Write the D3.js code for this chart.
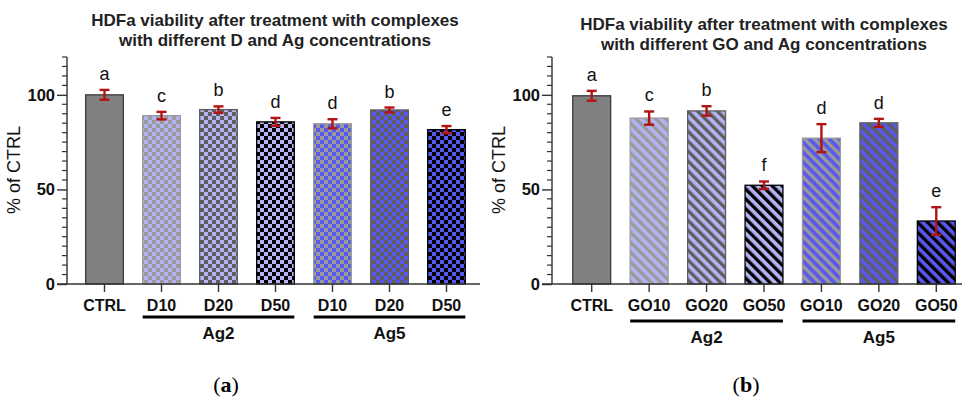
<!DOCTYPE html>
<html>
<head>
<meta charset="utf-8">
<script src="https://cdn.jsdelivr.net/npm/d3@7"></script>
<style>
  body { margin: 0; background: #fff; }
  svg text { font-family: "Liberation Sans", Arial, sans-serif; }
</style>
</head>
<body>
<svg id="chart" width="969" height="403"></svg>
<script>
// data
const labelsA = ["CTRL", "D10", "D20", "D50", "D10", "D20", "D50"];
const meansA = [100, 89, 92.2, 85.7, 84.7, 92, 81.6];
const errA = [2.6, 2.0, 1.7, 2.1, 2.4, 1.3, 1.9];
const lettersA = ["a", "c", "b", "d", "d", "b", "e"];

const labelsB = ["CTRL", "GO10", "GO20", "GO50", "GO10", "GO20", "GO50"];
const meansB = [99.5, 87.7, 91.5, 52.2, 77.1, 85.2, 33.3];
const errB = [2.6, 3.5, 2.5, 2.0, 7.4, 2.1, 7.3];
const lettersB = ["a", "c", "b", "f", "d", "d", "e"];

const groups = [{ name: "Ag2", from: 1, to: 3 }, { name: "Ag5", from: 4, to: 6 }];
const yTicks = [0, 50, 100];
const yMax = 120;

const svg = d3.select("#chart");
const defs = svg.append("defs");

// background / foreground colours of the patterns
const bgCols = ["#b4b4f4", "#b4b4f4", "#b4b4f4", "#5858f0", "#5858f0", "#5858f0"];
const fgCols = ["#9a9a9a", "#5e5e5e", "#000000", "#9a9a9a", "#5e5e5e", "#000000"];

bgCols.forEach((bg, i) => {
    // checkerboard
    const pc = defs.append("pattern")
        .attr("id", "chk" + i)
        .attr("patternUnits", "userSpaceOnUse")
        .attr("width", 8).attr("height", 8);
    pc.append("rect").attr("width", 8).attr("height", 8).attr("fill", bg);
    pc.append("rect").attr("width", 4).attr("height", 4).attr("fill", fgCols[i]);
    pc.append("rect").attr("x", 4).attr("y", 4).attr("width", 4).attr("height", 4).attr("fill", fgCols[i]);

    // diagonal stripes "\"
    const ps = defs.append("pattern")
        .attr("id", "str" + i)
        .attr("patternUnits", "userSpaceOnUse")
        .attr("width", 7).attr("height", 7)
        .attr("patternTransform", "rotate(-45)");
    ps.append("rect").attr("width", 7).attr("height", 7).attr("fill", bg);
    ps.append("rect").attr("width", 3.3).attr("height", 7).attr("fill", fgCols[i]);
});

function drawPanel(cfg) {
    const y = d3.scaleLinear().domain([0, yMax]).range([284, 57]);
    const idx = d3.range(cfg.labels.length);
    const x = d3.scaleBand()
        .domain(idx)
        .range(cfg.xr)
        .paddingInner(0.34)
        .paddingOuter(0.17);

    const g = svg.append("g");

    // title
    g.append("text")
        .attr("x", cfg.tx).attr("y", cfg.ty)
        .attr("text-anchor", "middle")
        .style("font-size", "17px").style("font-weight", "bold")
        .style("fill", "#222")
        .selectAll("tspan")
        .data(cfg.title)
        .join("tspan")
        .attr("x", cfg.tx)
        .attr("dy", (d, i) => i === 0 ? 0 : 19.5)
        .text(d => d);

    // bars
    g.selectAll(".bar")
        .data(idx)
        .join("rect")
        .attr("class", "bar")
        .attr("x", i => x(i))
        .attr("y", i => y(cfg.means[i]))
        .attr("width", x.bandwidth())
        .attr("height", i => y(0) - y(cfg.means[i]))
        .attr("fill", i => i === 0 ? "#808080" : `url(#${cfg.pat}${i - 1})`)
        .attr("stroke", i => i === 0 ? "#3a3a3a" : fgCols[i - 1])
        .attr("stroke-width", 1.3);

    // error bars
    const eb = g.selectAll(".err")
        .data(idx)
        .join("g")
        .attr("class", "err")
        .attr("stroke", "#b21414")
        .attr("stroke-width", 2.4);
    const cx = i => x(i) + x.bandwidth() / 2;
    eb.append("line")
        .attr("x1", cx).attr("x2", cx)
        .attr("y1", i => y(cfg.means[i] + cfg.err[i]))
        .attr("y2", i => y(cfg.means[i] - cfg.err[i]));
    eb.append("line")
        .attr("x1", i => cx(i) - 5).attr("x2", i => cx(i) + 5)
        .attr("y1", i => y(cfg.means[i] + cfg.err[i]))
        .attr("y2", i => y(cfg.means[i] + cfg.err[i]));
    eb.append("line")
        .attr("x1", i => cx(i) - 5).attr("x2", i => cx(i) + 5)
        .attr("y1", i => y(cfg.means[i] - cfg.err[i]))
        .attr("y2", i => y(cfg.means[i] - cfg.err[i]));

    // significance letters
    g.selectAll(".letter")
        .data(idx)
        .join("text")
        .attr("class", "letter")
        .attr("x", cx)
        .attr("y", i => y(cfg.means[i] + cfg.err[i]) - 10)
        .attr("text-anchor", "middle")
        .style("font-size", "18px")
        .style("fill", "#111")
        .text(i => cfg.letters[i]);

    // y axis
    const yAxis = g.append("g")
        .attr("transform", `translate(${cfg.ax},0)`)
        .call(d3.axisLeft(y).tickValues(yTicks).tickSize(10).tickPadding(2));
    yAxis.select(".domain").attr("d", `M0,${y(yMax)}V${y(0)}`);
    yAxis.selectAll("line, path").attr("stroke", "#333").attr("stroke-width", 1.4);
    yAxis.selectAll("text")
        .style("font-size", "16.5px").style("font-weight", "bold").style("fill", "#111");
    const minor = d3.range(0, yMax + 1, 5).filter(v => !yTicks.includes(v));
    yAxis.selectAll(".minor")
        .data(minor)
        .join("line")
        .attr("class", "minor")
        .attr("x1", -5).attr("x2", 0)
        .attr("y1", d => y(d)).attr("y2", d => y(d))
        .attr("stroke", "#333").attr("stroke-width", 1.2);

    // y label
    g.append("text")
        .attr("transform", `translate(${cfg.ax - 47},${170}) rotate(-90)`)
        .attr("text-anchor", "middle")
        .style("font-size", "18px").style("fill", "#111")
        .text("% of CTRL");

    // x axis
    const xAxis = g.append("g")
        .attr("transform", `translate(0,${y(0)})`)
        .call(d3.axisBottom(x).tickSize(8).tickPadding(8).tickFormat(i => cfg.labels[i]));
    xAxis.select(".domain").attr("d", `M${cfg.ax - 10},0H${cfg.xEnd}`);
    xAxis.selectAll("line, path").attr("stroke", "#333").attr("stroke-width", 1.4);
    xAxis.selectAll("text")
        .style("font-size", "16px").style("font-weight", "bold").style("fill", "#111");

    // Ag groups
    const gg = g.selectAll(".grp")
        .data(groups)
        .join("g")
        .attr("class", "grp");
    gg.append("line")
        .attr("x1", d => x(d.from)).attr("x2", d => x(d.to) + x.bandwidth())
        .attr("y1", cfg.gy).attr("y2", cfg.gy)
        .attr("stroke", "#000").attr("stroke-width", 3);
    gg.append("text")
        .attr("x", d => (x(d.from) + x(d.to) + x.bandwidth()) / 2)
        .attr("y", cfg.gy + 22)
        .attr("text-anchor", "middle")
        .style("font-size", "17px").style("font-weight", "bold").style("fill", "#111")
        .text(d => d.name);

    // panel letter
    const pl = g.append("text")
        .attr("x", cfg.px).attr("y", 392)
        .attr("text-anchor", "middle")
        .style("font-family", "'Liberation Serif', 'Times New Roman', serif")
        .style("font-size", "22px").style("fill", "#000");
    pl.append("tspan").text("(");
    pl.append("tspan").style("font-weight", "bold").text(cfg.panel);
    pl.append("tspan").text(")");
}

drawPanel({
    labels: labelsA, means: meansA, err: errA, letters: lettersA,
    title: ["HDFa viability after treatment with complexes", "with different D and Ag concentrations"],
    tx: 275, ty: 26, ax: 67, xr: [76, 475], xEnd: 480, gy: 317, pat: "chk", panel: "a", px: 226
});

drawPanel({
    labels: labelsB, means: meansB, err: errB, letters: lettersB,
    title: ["HDFa viability after treatment with complexes", "with different GO and Ag concentrations"],
    tx: 764, ty: 30, ax: 552, xr: [563, 965], xEnd: 962, gy: 321, pat: "str", panel: "b", px: 746
});
</script>
</body>
</html>
